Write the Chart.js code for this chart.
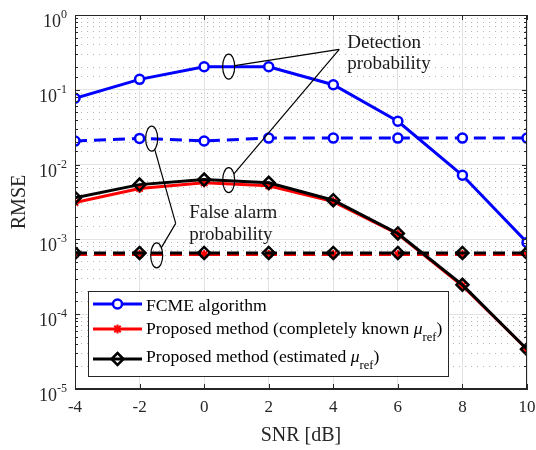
<!DOCTYPE html>
<html>
<head>
<meta charset="utf-8">
<script src="https://cdn.jsdelivr.net/npm/chart.js@4.4.0/dist/chart.umd.min.js"></script>
<style>
  html, body { margin: 0; padding: 0; background: #fff; }
</style>
</head>
<body>
<canvas id="chart" width="536" height="450"></canvas>
<script>
// SNR values (x axis)
const snr = [-4, -2, 0, 2, 4, 6, 8, 10];

// FCME algorithm
const fcmeDetect = [0.077, 0.138, 0.203, 0.203, 0.117, 0.038, 0.0072, 0.00091];
const fcmeFalse  = [0.0206, 0.0224, 0.0207, 0.0226, 0.0226, 0.0226, 0.0226, 0.0226];

// proposed method, completely known mu_ref
const knownDetect = [0.0031, 0.0048, 0.0057, 0.0052, 0.0032, 0.00118, 0.00024, 0.000034];
const knownFalse  = [0.00063, 0.00063, 0.00063, 0.00063, 0.00063, 0.00063, 0.00063, 0.00063];

// proposed method, estimated mu_ref
const estDetect = [0.0036, 0.0054, 0.0063, 0.0057, 0.00334, 0.0012, 0.000247, 0.000034];
const estFalse  = [0.00066, 0.00066, 0.00066, 0.00066, 0.00066, 0.00066, 0.00066, 0.00066];

// tick labels
const xTicks = [-4, -2, 0, 2, 4, 6, 8, 10];
const yDecades = [1, 1e-1, 1e-2, 1e-3, 1e-4, 1e-5];
const yExpLabels = ['0', '-1', '-2', '-3', '-4', '-5'];

const serif = 'Liberation Serif';
const axisColor = '#262626';

const pts = (arr) => snr.map((x, i) => ({ x: x, y: arr[i] }));
const isDecade = (v) => Math.abs(Math.log10(v) - Math.round(Math.log10(v))) < 1e-6;

// blue / red / black styles
const blueStyle = {
  borderColor: '#0000ff', borderWidth: 3, pointStyle: 'circle', pointRadius: 4.5,
  pointBorderWidth: 2.5, pointBorderColor: '#0000ff', pointBackgroundColor: '#ffffff', order: 3
};
const redStyle = {
  borderColor: '#ff0000', borderWidth: 3, pointStyle: 'star', pointRadius: 4.5,
  pointBorderWidth: 2, pointBorderColor: '#ff0000', pointBackgroundColor: '#ff0000', order: 2
};
const blackStyle = {
  borderColor: '#000000', borderWidth: 3, pointStyle: 'rectRot', pointRadius: 6,
  pointBorderWidth: 2.5, pointBorderColor: '#000000', pointBackgroundColor: 'rgba(0,0,0,0)', order: 1
};
const dash = [12, 7];

const datasets = [
  Object.assign({ label: 'FCME algorithm', data: pts(fcmeDetect) }, blueStyle),
  Object.assign({ label: 'FCME false alarm', data: pts(fcmeFalse), borderDash: dash }, blueStyle),
  Object.assign({ label: 'Proposed method (completely known)', data: pts(knownDetect) }, redStyle),
  Object.assign({ label: 'known false alarm', data: pts(knownFalse), borderDash: dash }, redStyle),
  Object.assign({ label: 'Proposed method (estimated)', data: pts(estDetect) }, blackStyle),
  Object.assign({ label: 'estimated false alarm', data: pts(estFalse), borderDash: dash }, blackStyle)
];

// legend entries (index into datasets)
const legendEntries = [
  { ds: 0, text: 'FCME algorithm', mu: false },
  { ds: 2, text: 'Proposed method (completely known ', mu: true },
  { ds: 4, text: 'Proposed method (estimated ', mu: true }
];

// annotations: ellipses around curves, joined to a label
const annotations = [
  { ellipses: [[0.76, 0.204], [0.76, 0.0062]], join: [4.185, 0.348],
    lines: ['Detection', 'probability'], dx: 8, dy: [-1, 20] },
  { ellipses: [[-1.625, 0.0222], [-1.47, 0.00061]], join: [-0.881, 0.00164],
    lines: ['False alarm', 'probability'], dx: 13.5, dy: [-5, 17] }
];

function drawMarker(ctx, style, x, y) {
  const r = style.pointRadius;
  ctx.save();
  ctx.lineWidth = style.pointBorderWidth;
  ctx.strokeStyle = style.pointBorderColor;
  ctx.fillStyle = style.pointBackgroundColor;
  ctx.setLineDash([]);
  ctx.beginPath();
  if (style.pointStyle === 'circle') {
    ctx.arc(x, y, r, 0, Math.PI * 2);
    ctx.fill(); ctx.stroke();
  } else if (style.pointStyle === 'rectRot') {
    ctx.moveTo(x, y - r); ctx.lineTo(x + r, y); ctx.lineTo(x, y + r); ctx.lineTo(x - r, y);
    ctx.closePath(); ctx.stroke();
  } else {
    const d = r * Math.SQRT1_2;
    ctx.moveTo(x - r, y); ctx.lineTo(x + r, y);
    ctx.moveTo(x, y - r); ctx.lineTo(x, y + r);
    ctx.moveTo(x - d, y - d); ctx.lineTo(x + d, y + d);
    ctx.moveTo(x - d, y + d); ctx.lineTo(x + d, y - d);
    ctx.stroke();
  }
  ctx.restore();
}

const decorations = {
  id: 'decorations',
  afterDraw(chart) {
    const ctx = chart.ctx;
    const ca = chart.chartArea;
    const xs = chart.scales.x;
    const ys = chart.scales.y;
    ctx.save();

    // box
    ctx.strokeStyle = axisColor;
    ctx.lineWidth = 1;
    ctx.setLineDash([]);
    ctx.strokeRect(Math.round(ca.left) + 0.5, Math.round(ca.top) + 0.5,
      Math.round(ca.right - ca.left) - 1, Math.round(ca.bottom - ca.top) - 1);

    // inward tick marks
    ctx.beginPath();
    ys.ticks.forEach(t => {
      const y = Math.round(ys.getPixelForValue(t.value)) + 0.5;
      const len = isDecade(t.value) ? 5 : 3;
      ctx.moveTo(ca.left, y); ctx.lineTo(ca.left + len, y);
      ctx.moveTo(ca.right, y); ctx.lineTo(ca.right - len, y);
    });
    xTicks.forEach(v => {
      const x = Math.round(xs.getPixelForValue(v)) + 0.5;
      ctx.moveTo(x, ca.bottom); ctx.lineTo(x, ca.bottom - 5);
      ctx.moveTo(x, ca.top); ctx.lineTo(x, ca.top + 5);
    });
    ctx.stroke();

    // y tick labels 10^n
    ctx.fillStyle = axisColor;
    ctx.textBaseline = 'alphabetic';
    ctx.textAlign = 'left';
    yDecades.forEach((v, i) => {
      const y = ys.getPixelForValue(v);
      ctx.font = '12px "' + serif + '"';
      const we = ctx.measureText(yExpLabels[i]).width;
      ctx.font = '18px "' + serif + '"';
      const wm = ctx.measureText('10').width;
      const x0 = ca.left - 8 - we - wm;
      ctx.fillText('10', x0, y + 12);
      ctx.font = '12px "' + serif + '"';
      ctx.fillText(yExpLabels[i], x0 + wm, y + 3);
    });

    // annotations
    annotations.forEach(a => {
      const jx = xs.getPixelForValue(a.join[0]);
      const jy = ys.getPixelForValue(a.join[1]);
      ctx.strokeStyle = '#000';
      ctx.lineWidth = 1.2;
      a.ellipses.forEach(e => {
        const cx = xs.getPixelForValue(e[0]);
        const cy = ys.getPixelForValue(e[1]);
        const rx = 6, ry = 12.5;
        ctx.beginPath();
        ctx.ellipse(cx, cy, rx, ry, 0, 0, Math.PI * 2);
        ctx.stroke();
        const dx = jx - cx, dy = jy - cy;
        const t = 1 / Math.sqrt((dx / rx) * (dx / rx) + (dy / ry) * (dy / ry));
        ctx.beginPath();
        ctx.moveTo(cx + dx * t, cy + dy * t);
        ctx.lineTo(jx, jy);
        ctx.stroke();
      });
      ctx.fillStyle = '#1a1a1a';
      ctx.font = '19px "' + serif + '"';
      ctx.textAlign = 'left';
      a.lines.forEach((s, k) => ctx.fillText(s, jx + a.dx, jy + a.dy[k]));
    });

    // legend
    const lx = ca.left + 13, ly = ca.bottom - 98;
    const textX = lx + 58;
    const rowLine = [13, 38, 68];
    const rowBase = [20, 43, 71];
    const mainFont = '17.6px "' + serif + '"';
    const muFont = 'italic 17.6px "' + serif + '"';
    const subFont = '12.5px "' + serif + '"';
    let maxW = 0;
    legendEntries.forEach(en => {
      ctx.font = mainFont;
      let w = ctx.measureText(en.text).width;
      if (en.mu) {
        ctx.font = muFont; w += ctx.measureText('\u03bc').width;
        ctx.font = subFont; w += ctx.measureText('ref').width;
        ctx.font = mainFont; w += ctx.measureText(')').width;
      }
      maxW = Math.max(maxW, w);
    });
    const lw = Math.round(textX - lx + maxW + 6);
    const lh = 85;
    ctx.fillStyle = '#fff';
    ctx.fillRect(lx, ly, lw, lh);
    ctx.strokeStyle = axisColor;
    ctx.lineWidth = 1;
    ctx.strokeRect(lx + 0.5, ly + 0.5, lw, lh);
    legendEntries.forEach((en, k) => {
      const ds = datasets[en.ds];
      const yy = ly + rowLine[k];
      ctx.strokeStyle = ds.borderColor;
      ctx.lineWidth = ds.borderWidth;
      ctx.beginPath();
      ctx.moveTo(lx + 5, yy); ctx.lineTo(lx + 54, yy);
      ctx.stroke();
      drawMarker(ctx, ds, lx + 29.5, yy);
      const by = ly + rowBase[k];
      ctx.fillStyle = '#000';
      ctx.font = mainFont;
      ctx.fillText(en.text, textX, by);
      let x = textX + ctx.measureText(en.text).width;
      if (en.mu) {
        ctx.font = muFont; ctx.fillText('\u03bc', x, by); x += ctx.measureText('\u03bc').width;
        ctx.font = subFont; ctx.fillText('ref', x, by + 7); x += ctx.measureText('ref').width;
        ctx.font = mainFont; ctx.fillText(')', x, by);
      }
    });
    ctx.restore();
  }
};

const chart = new Chart(document.getElementById('chart'), {
  type: 'line',
  data: { datasets: datasets },
  options: {
    responsive: false,
    animation: false,
    devicePixelRatio: 1,
    layout: { padding: { top: 15, right: 9, left: 0, bottom: 0 } },
    plugins: { legend: { display: false }, tooltip: { enabled: false } },
    scales: {
      x: {
        type: 'linear', min: -4, max: 10,
        ticks: { stepSize: 2, autoSkip: false, maxRotation: 0, padding: 8, color: axisColor,
                 font: { family: serif, size: 17 } },
        grid: { color: '#e3e3e3', drawTicks: false },
        border: { color: axisColor },
        title: { display: true, text: 'SNR [dB]', color: axisColor,
                 font: { family: serif, size: 20 }, padding: { top: 0, bottom: 2 } },
        afterFit(s) { s.height = 61; s.paddingLeft = 0; s.paddingRight = 0; }
      },
      y: {
        type: 'logarithmic', min: 1e-5, max: 1, position: 'left',
        ticks: { display: false, autoSkip: false },
        grid: { drawTicks: false, color: (c) => isDecade(c.tick.value) ? '#e3e3e3' : 'rgba(0,0,0,0)' },
        border: { color: axisColor },
        title: { display: true, text: 'RMSE', color: axisColor,
                 font: { family: serif, size: 20 }, padding: { top: 8, bottom: 0 } },
        afterFit(s) { s.width = 75; }
      },
      yMinor: {
        type: 'logarithmic', min: 1e-5, max: 1, position: 'left',
        ticks: { display: false, autoSkip: false },
        grid: { drawTicks: false, lineWidth: 1,
                color: (c) => isDecade(c.tick.value) ? 'rgba(0,0,0,0)' : '#b4b4b4' },
        border: { display: false, dash: [1, 5] },
        afterFit(s) { s.width = 0; }
      }
    }
  },
  plugins: [decorations]
});
</script>
</body>
</html>
